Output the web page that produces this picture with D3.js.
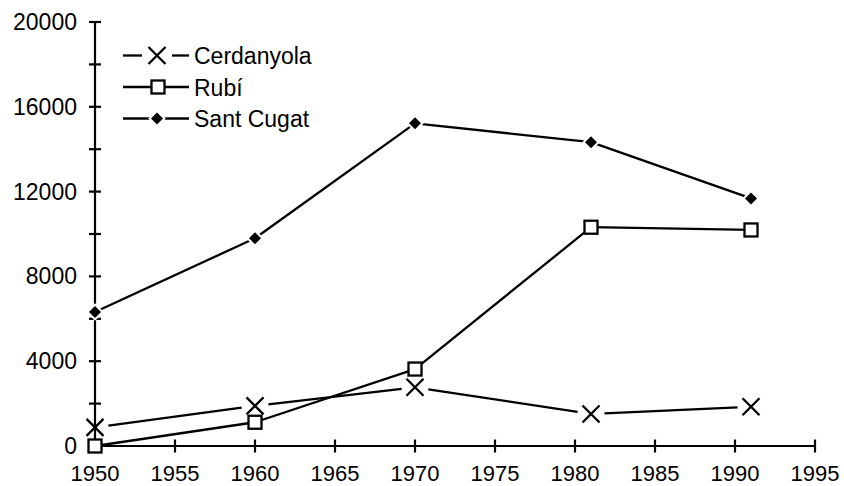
<!DOCTYPE html>
<html>
<head>
<meta charset="utf-8">
<script src="https://cdn.jsdelivr.net/npm/d3@7"></script>
<style>
  html, body { margin: 0; padding: 0; background: #fff; }
  svg { display: block; }
  text { font-family: "Liberation Sans", Arial, sans-serif; fill: #000; }
</style>
</head>
<body>
<svg id="chart" width="844" height="486"></svg>
<script>
const years = [1950, 1960, 1970, 1981, 1991];
const cerdanyola = [880, 1890, 2770, 1510, 1850];
const rubi = [0, 1120, 3630, 10320, 10190];
const santCugat = [6320, 9800, 15220, 14330, 11680];
const seriesNames = ["Cerdanyola", "Rubí", "Sant Cugat"];
const seriesMarkers = ["x", "square", "diamond"];
const xTicks = [1950, 1955, 1960, 1965, 1970, 1975, 1980, 1985, 1990, 1995];
const yTicks = [0, 2000, 4000, 6000, 8000, 10000, 12000, 14000, 16000, 18000, 20000];
const yLabels = [0, 4000, 8000, 12000, 16000, 20000];

const svg = d3.select("#chart");
const x = d3.scaleLinear().domain([1950, 1995]).range([95, 815]);
const y = d3.scaleLinear().domain([0, 20000]).range([446, 22]);
const FS = 23;

// Axes
const gx = svg.append("g");
gx.append("line").attr("x1", x(1950)).attr("x2", x(1995))
  .attr("y1", y(0)).attr("y2", y(0)).attr("stroke", "#000").attr("stroke-width", 2.2);
gx.selectAll("line.t").data(xTicks).enter().append("line")
  .attr("class", "t").attr("x1", d => x(d)).attr("x2", d => x(d))
  .attr("y1", y(0) - 6.5).attr("y2", y(0) + 6.5)
  .attr("stroke", "#000").attr("stroke-width", 2.2);
gx.selectAll("text").data(xTicks).enter().append("text")
  .attr("x", d => x(d)).attr("y", 481).attr("text-anchor", "middle")
  .attr("font-size", 22).text(d => d);

const gy = svg.append("g");
gy.append("line").attr("x1", x(1950)).attr("x2", x(1950))
  .attr("y1", y(0)).attr("y2", y(20000)).attr("stroke", "#000").attr("stroke-width", 2.2);
gy.selectAll("line.t").data(yTicks).enter().append("line")
  .attr("class", "t").attr("x1", x(1950) - 6).attr("x2", x(1950) + 6)
  .attr("y1", d => y(d)).attr("y2", d => y(d))
  .attr("stroke", "#000").attr("stroke-width", 2.2);
gy.selectAll("text").data(yLabels).enter().append("text")
  .attr("x", 77).attr("y", d => y(d) + 8).attr("text-anchor", "end")
  .attr("font-size", FS).text(d => d);

// Marker helpers
function drawMarker(g, type, cx, cy) {
  if (type === "x") {
    const s = 8.5;
    g.append("path")
      .attr("d", `M${cx - s},${cy - s}L${cx + s},${cy + s}M${cx - s},${cy + s}L${cx + s},${cy - s}`)
      .attr("stroke", "#000").attr("stroke-width", 2.3).attr("fill", "none");
  } else if (type === "square") {
    const s = 6.5;
    g.append("rect").attr("x", cx - s).attr("y", cy - s)
      .attr("width", 2 * s).attr("height", 2 * s)
      .attr("fill", "#fff").attr("stroke", "#000").attr("stroke-width", 2.3);
  } else {
    const s = 6;
    g.append("path")
      .attr("d", `M${cx},${cy - s}L${cx + s},${cy}L${cx},${cy + s}L${cx - s},${cy}Z`)
      .attr("fill", "#000").attr("stroke", "#fff").attr("stroke-width", 4)
      .attr("paint-order", "stroke");
  }
}

// Draw a polyline with optional gaps at each vertex
function drawSeries(g, pts, gap) {
  for (let i = 0; i < pts.length - 1; i++) {
    const [x1, y1] = pts[i], [x2, y2] = pts[i + 1];
    const len = Math.hypot(x2 - x1, y2 - y1);
    const ux = (x2 - x1) / len, uy = (y2 - y1) / len;
    g.append("line")
      .attr("x1", x1 + ux * gap).attr("y1", y1 + uy * gap)
      .attr("x2", x2 - ux * gap).attr("y2", y2 - uy * gap)
      .attr("stroke", "#000").attr("stroke-width", 2.3);
  }
}

const allData = [cerdanyola, rubi, santCugat];
const gaps = [13.5, 0, 0];
const gl = svg.append("g");
const gm = svg.append("g");
allData.forEach((vals, si) => {
  const pts = years.map((yr, i) => [x(yr), y(vals[i])]);
  drawSeries(gl, pts, gaps[si]);
});
[2, 1, 0].forEach(si => {
  years.forEach((yr, i) => drawMarker(gm, seriesMarkers[si], x(yr), y(allData[si][i])));
});

// Legend
const legY = [55.5, 87, 118.5];
const lg = svg.append("g");
seriesNames.forEach((name, i) => {
  const cy = legY[i];
  const cx = 157;
  if (seriesMarkers[i] === "x") {
    lg.append("line").attr("x1", 123).attr("x2", 142).attr("y1", cy).attr("y2", cy)
      .attr("stroke", "#000").attr("stroke-width", 2.3);
    lg.append("line").attr("x1", 172).attr("x2", 189).attr("y1", cy).attr("y2", cy)
      .attr("stroke", "#000").attr("stroke-width", 2.3);
  } else {
    lg.append("line").attr("x1", 123).attr("x2", 189).attr("y1", cy).attr("y2", cy)
      .attr("stroke", "#000").attr("stroke-width", 2.3);
  }
  drawMarker(lg, seriesMarkers[i], seriesMarkers[i] === "square" ? 158 : cx, cy);
  lg.append("text").attr("x", 194).attr("y", cy + 8.5)
    .attr("font-size", FS).text(name);
});
</script>
</body>
</html>
